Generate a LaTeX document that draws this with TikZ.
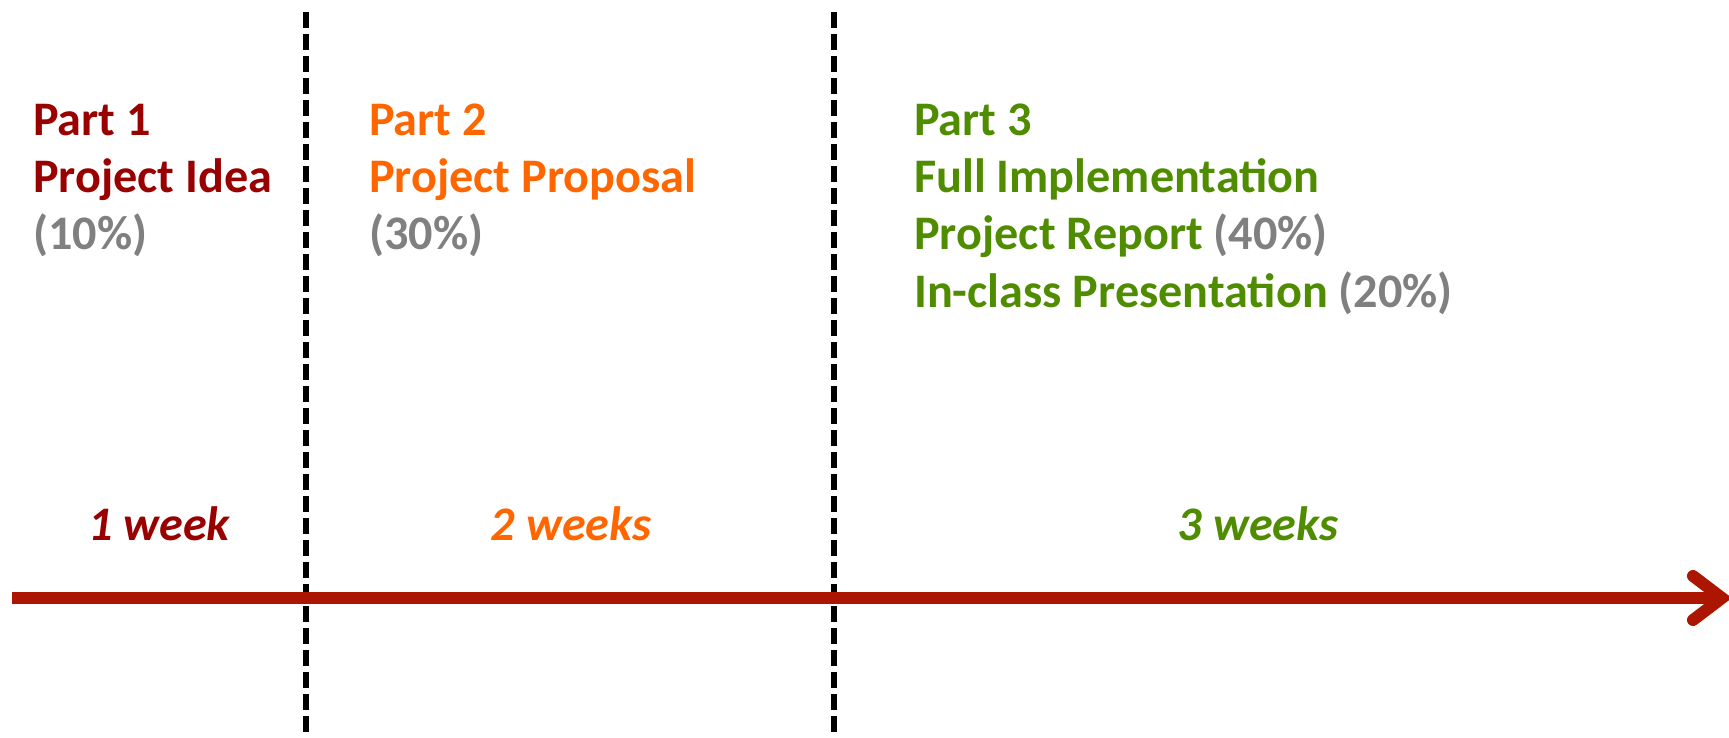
\documentclass[tikz,border=0pt]{standalone}
\usepackage{fontspec}
\setmainfont{Carlito}
\definecolor{partone}{RGB}{153,0,0}
\definecolor{parttwo}{RGB}{255,102,0}
\definecolor{partthree}{RGB}{79,140,0}
\definecolor{pct}{RGB}{128,128,128}
\definecolor{axis}{RGB}{172,22,0}
\begin{document}
\begin{tikzpicture}[x=1pt,y=-1pt,
  title/.style={anchor=base west,inner sep=0pt,font=\fontsize{48.2}{57}\selectfont\bfseries},
  span/.style={anchor=base,inner sep=0pt,font=\fontsize{48.2}{57}\selectfont\bfseries\itshape},
  divider/.style={line width=6pt,dash pattern=on 16pt off 6pt},
  timeline/.style={line width=12pt,color=axis}]
\useasboundingbox (0,0) rectangle (1729,737);

% phase dividers
\coordinate (d1t) at (305.5,12);
\coordinate (d1b) at (305.5,737);
\coordinate (d2t) at (833.5,12);
\coordinate (d2b) at (833.5,737);
\draw[divider] (d1t) -- (d1b);
\draw[divider] (d2t) -- (d2b);

% time axis with chevron head
\coordinate (ax0) at (12,598);
\coordinate (ax1) at (1722,598);
\coordinate (hu) at (1693,576);
\coordinate (hd) at (1693,620);
\draw[timeline,line cap=butt] (ax0) -- (ax1);
\draw[timeline,line cap=round,line join=miter] (hu) -- (ax1) -- (hd);

% part 1
\node[title,text=partone] (p1a) at (33,135) {Part 1};
\node[title,text=partone] (p1b) at (33,192) {Project Idea};
\node[title,text=pct] (p1c) at (33,249) {(10\%)};

% part 2
\node[title,text=parttwo] (p2a) at (369,135) {Part 2};
\node[title,text=parttwo] (p2b) at (369,192) {Project Proposal};
\node[title,text=pct] (p2c) at (369,249) {(30\%)};

% part 3
\node[title,text=partthree] (p3a) at (914,135) {Part 3};
\node[title,text=partthree] (p3b) at (914,192) {Full Implementation};
\node[title,text=partthree] (p3c) at (914,249) {Project Report \textcolor{pct}{(40\%)}};
\node[title,text=partthree] (p3d) at (914,307) {In-class Presentation \textcolor{pct}{(20\%)}};

% durations
\node[span,text=partone] (w1) at (159,540) {1 week};
\node[span,text=parttwo] (w2) at (571,540) {2 weeks};
\node[span,text=partthree] (w3) at (1258,540) {3 weeks};
\end{tikzpicture}
\end{document}
